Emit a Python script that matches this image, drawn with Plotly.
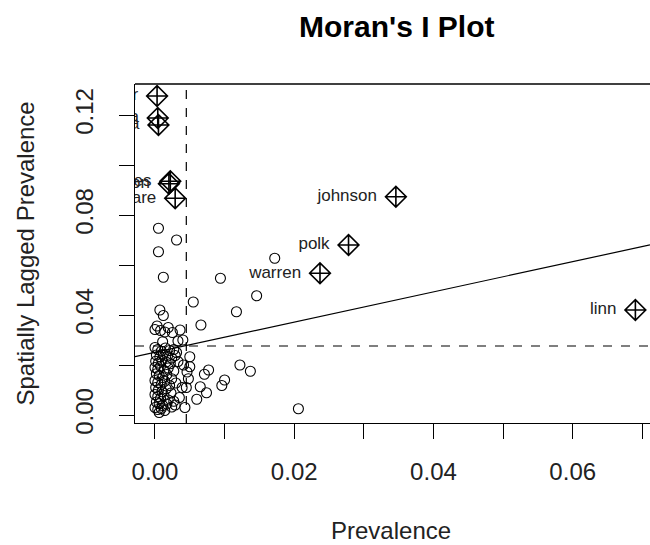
import plotly.graph_objects as go

# ---------------- data ----------------
# ordinary counties: prevalence (x) and spatially lagged prevalence (y)
circle_x = [
    0.0005, 0.0031, 0.0005, 0.0012, 0.0094, 0.0172, 0.0146, 0.0117, 0.0055, 0.0066,
    0.0007, 0.0012, 0.0003, 0.0019, 0.0000, 0.0008, 0.0014, 0.0036, 0.0025, 0.0040,
    0.0011, 0.0033,
    0.0050, 0.0050, 0.0122, 0.0137, 0.0077, 0.0071, 0.0100, 0.0096, 0.0065, 0.0074,
    0.0048, 0.0060, 0.0043, 0.0029, 0.0206, 0.0041, 0.0046, 0.0039, 0.0045, 0.0035,
    0.0000, 0.0004, 0.0009, 0.0015, 0.0021, 0.0027, 0.0031,
    0.0002, 0.0007, 0.0012, 0.0018, 0.0024, 0.0029,
    0.0001, 0.0005, 0.0010, 0.0016, 0.0022, 0.0033,
    0.0000, 0.0004, 0.0008, 0.0013, 0.0019, 0.0027,
    0.0002, 0.0006, 0.0011, 0.0017, 0.0024,
    0.0000, 0.0004, 0.0009, 0.0014, 0.0021, 0.0030,
    0.0001, 0.0005, 0.0010, 0.0016, 0.0023,
    0.0000, 0.0004, 0.0008, 0.0013, 0.0019, 0.0027,
    0.0002, 0.0006, 0.0011, 0.0017, 0.0024,
    0.0000, 0.0004, 0.0009, 0.0014, 0.0006,
]
circle_y = [
    0.0747, 0.0700, 0.0653, 0.0551, 0.0547, 0.0627, 0.0477, 0.0413, 0.0452, 0.0360,
    0.0420, 0.0398, 0.0356, 0.0350, 0.0342, 0.0338, 0.0332, 0.0340, 0.0330, 0.0300,
    0.0293, 0.0296,
    0.0233, 0.0193, 0.0200, 0.0175, 0.0180, 0.0163, 0.0140, 0.0118, 0.0113, 0.0089,
    0.0145, 0.0063, 0.0030, 0.0040, 0.0025, 0.0200, 0.0172, 0.0110, 0.0110, 0.0070,
    0.0270, 0.0262, 0.0255, 0.0268, 0.0258, 0.0262, 0.0250,
    0.0240, 0.0232, 0.0243, 0.0236, 0.0228, 0.0238,
    0.0215, 0.0208, 0.0220, 0.0212, 0.0205, 0.0214,
    0.0190, 0.0183, 0.0195, 0.0178, 0.0188, 0.0176,
    0.0165, 0.0158, 0.0150, 0.0162, 0.0145,
    0.0138, 0.0130, 0.0122, 0.0135, 0.0118, 0.0128,
    0.0110, 0.0100, 0.0093, 0.0105, 0.0088,
    0.0082, 0.0074, 0.0066, 0.0078, 0.0060, 0.0055,
    0.0052, 0.0045, 0.0038, 0.0044, 0.0032,
    0.0030, 0.0022, 0.0026, 0.0018, 0.0010,
]

# influential counties
infl_names = ["butler", "ida", "tama", "des moines", "clinton", "delaware",
              "johnson", "polk", "warren", "linn"]
infl_x = [0.0003, 0.0004, 0.0005, 0.0022, 0.0020, 0.0029, 0.0346, 0.0278, 0.0237, 0.0690]
infl_y = [0.1276, 0.1188, 0.1160, 0.0935, 0.0925, 0.0867, 0.0873, 0.0680, 0.0567, 0.0420]

# reference lines
x_mean = 0.0045
wx_mean = 0.0276
reg_intercept = 0.0251
reg_slope = 0.604

x_tick_vals = [0.00, 0.01, 0.02, 0.03, 0.04, 0.05, 0.06, 0.07]
x_tick_text = ["0.00", "", "0.02", "", "0.04", "", "0.06", ""]
y_tick_vals = [0.00, 0.02, 0.04, 0.06, 0.08, 0.10, 0.12]
y_tick_text = ["0.00", "", "0.04", "", "0.08", "", "0.12"]

x_range = [-0.00287, 0.0711]
y_range = [-0.0032, 0.1324]

FONT = "Liberation Sans, Arial, sans-serif"
TXT = "#222222"

fig = go.Figure()

# regression line across the full x range
fig.add_trace(go.Scatter(
    x=x_range, y=[reg_intercept + reg_slope * v for v in x_range],
    mode="lines", line=dict(color="black", width=1.2), hoverinfo="skip",
    showlegend=False))

fig.add_trace(go.Scatter(
    x=circle_x, y=circle_y, mode="markers",
    marker=dict(symbol="circle-open", size=10, color="black",
                line=dict(color="black", width=1.1)),
    showlegend=False))

fig.add_trace(go.Scatter(
    x=infl_x, y=infl_y, mode="markers",
    marker=dict(symbol="diamond-cross-open", size=16, color="black",
                line=dict(color="black", width=1.6)),
    showlegend=False))

fig.add_trace(go.Scatter(
    x=infl_x, y=infl_y, mode="text", text=[n + "    " for n in infl_names],
    textposition="middle left", cliponaxis=True,
    textfont=dict(family=FONT, size=17, color=TXT),
    showlegend=False, hoverinfo="skip"))

# dashed mean lines
fig.add_shape(type="line", xref="x", yref="paper", x0=x_mean, x1=x_mean, y0=0, y1=1,
              line=dict(color="black", width=1.2, dash="dash"))
fig.add_shape(type="line", xref="paper", yref="y", x0=0, x1=1, y0=wx_mean, y1=wx_mean,
              line=dict(color="black", width=1.2, dash="dash"))
# top border
fig.add_shape(type="line", xref="paper", yref="paper", x0=0, x1=1, y0=1, y1=1,
              line=dict(color="black", width=1.3))

fig.update_xaxes(range=x_range, tickvals=x_tick_vals, ticktext=x_tick_text,
                 ticks="outside", ticklen=15, tickwidth=1.2, tickcolor="black",
                 showline=True, linecolor="black", linewidth=1.3,
                 showgrid=False, zeroline=False, ticklabelstandoff=12,
                 tickfont=dict(family=FONT, size=24, color=TXT))
fig.update_yaxes(range=y_range, tickvals=y_tick_vals, ticktext=y_tick_text,
                 ticks="outside", ticklen=15, tickwidth=1.2, tickcolor="black",
                 showline=True, linecolor="black", linewidth=1.3,
                 showgrid=False, zeroline=False, tickangle=-90, ticklabelstandoff=16,
                 tickfont=dict(family=FONT, size=24, color=TXT))

fig.add_annotation(text="<b>Moran's I Plot</b>", xref="paper", yref="paper",
                   x=(396.5 - 135) / 515, y=(423 - 26) / 339, xanchor="center",
                   yanchor="middle", showarrow=False,
                   font=dict(family=FONT, size=30, color="black"))
fig.add_annotation(text="Prevalence", xref="paper", yref="paper",
                   x=(390.5 - 135) / 515, y=(423 - 530) / 339, xanchor="center",
                   yanchor="middle", showarrow=False,
                   font=dict(family=FONT, size=24, color=TXT))
fig.add_annotation(text="Spatially Lagged Prevalence", xref="paper", yref="paper",
                   x=(25 - 135) / 515, y=0.5, xanchor="center", yanchor="middle",
                   textangle=-90, showarrow=False,
                   font=dict(family=FONT, size=24, color=TXT))

fig.update_layout(width=650, height=545, plot_bgcolor="white", paper_bgcolor="white",
                  margin=dict(l=135, r=0, t=84, b=122), showlegend=False)

fig.write_html("out.html")
